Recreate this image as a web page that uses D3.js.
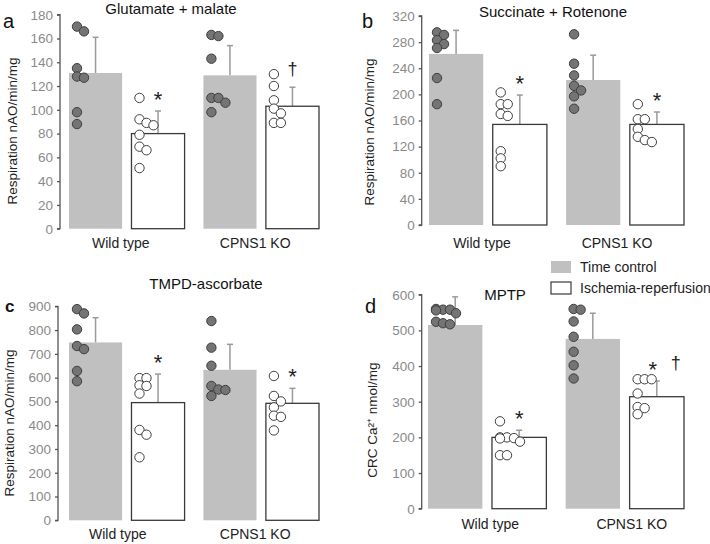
<!DOCTYPE html>
<html>
<head>
<meta charset="utf-8">
<script src="https://cdn.jsdelivr.net/npm/d3@7"></script>
<style>
  html, body { margin: 0; padding: 0; background: #fff; }
  svg { display: block; font-family: "Liberation Sans", Arial, sans-serif; }
</style>
</head>
<body>
<svg id="chart" width="710" height="544"></svg>
<script>
// ---------- DATA ----------
const groups = ["Wild type", "CPNS1 KO"];
const conditions = ["Time control", "Ischemia-reperfusion"];

// bar order: WT-TC, WT-IR, KO-TC, KO-IR
const glutMeans = [131, 80, 129, 103];
const glutErrTop = [161, 99, 154, 119];
const glutPoints = [
  [170, 166, 135, 128, 127, 98, 88],
  [110, 92, 89, 87, 79, 69, 66, 51],
  [163, 162, 143, 110, 110, 106, 98],
  [130, 120, 108, 101, 97, 89, 89]
];
const glutMarks = ["", "*", "", "†"];
const glutTicks = [0, 20, 40, 60, 80, 100, 120, 140, 160, 180];

const succMeans = [262, 154, 222, 154];
const succErrTop = [298, 199, 260, 173];
const succPoints = [
  [295, 291, 283, 277, 271, 225, 185],
  [203, 185, 185, 170, 167, 113, 102, 90],
  [292, 247, 229, 213, 206, 197, 178],
  [185, 162, 162, 147, 135, 130, 127]
];
const succMarks = ["", "*", "", "*"];
const succTicks = [0, 40, 80, 120, 160, 200, 240, 280, 320];

const tmpdMeans = [748, 495, 633, 492];
const tmpdErrTop = [852, 615, 740, 555];
const tmpdPoints = [
  [888, 870, 803, 733, 720, 628, 585],
  [598, 598, 568, 565, 533, 380, 360, 265],
  [838, 726, 650, 565, 550, 548, 523],
  [607, 523, 500, 475, 440, 435, 378]
];
const tmpdMarks = ["", "*", "", "*"];
const tmpdTicks = [0, 100, 200, 300, 400, 500, 600, 700, 800, 900];

const mptpMeans = [515, 200, 476, 314];
const mptpErrTop = [594, 220, 548, 358];
const mptpPoints = [
  [560, 558, 558, 556, 548, 524, 520, 517],
  [245, 200, 200, 198, 197, 188, 150, 150],
  [560, 558, 525, 482, 440, 402, 365],
  [363, 363, 363, 323, 285, 282, 265]
];
const mptpMarks = ["", "*", "", "* †"];
const mptpTicks = [0, 100, 200, 300, 400, 500, 600];

// ---------- LAYOUT ----------
const svg = d3.select("#chart");
const FONT = "'Liberation Sans', Arial, sans-serif";

const panels = [
  { letter: "a", letterX: 3, letterY: 28, letterSize: 20, letterWeight: "normal",
    title: "Glutamate + malate", titleX: 171, titleY: 14,
    axisX: 60, yTop: 14.7, yBottom: 228.7, barL: 69, barR: 319,
    ylabel: "Respiration nAO/min/mg", ylabelX: 17, ylabelY: 131,
    xlabY: 248, xlabDx: [-6, -6],
    means: glutMeans, errTop: glutErrTop, points: glutPoints, marks: glutMarks, ticks: glutTicks },
  { letter: "b", letterX: 362, letterY: 28, letterSize: 20, letterWeight: "normal",
    title: "Succinate + Rotenone", titleX: 553, titleY: 17,
    axisX: 421.7, yTop: 16, yBottom: 225, barL: 429, barR: 684,
    ylabel: "Respiration nAO/min/mg", ylabelX: 374, ylabelY: 132,
    xlabY: 248, xlabDx: [-6, -8],
    means: succMeans, errTop: succErrTop, points: succPoints, marks: succMarks, ticks: succTicks },
  { letter: "c", letterX: 5, letterY: 312, letterSize: 17, letterWeight: "bold",
    title: "TMPD-ascorbate", titleX: 206, titleY: 289,
    axisX: 58, yTop: 306.3, yBottom: 520.3, barL: 69, barR: 319,
    ylabel: "Respiration nAO/min/mg", ylabelX: 14, ylabelY: 423,
    xlabY: 539, xlabDx: [-9, -6],
    means: tmpdMeans, errTop: tmpdErrTop, points: tmpdPoints, marks: tmpdMarks, ticks: tmpdTicks },
  { letter: "d", letterX: 365, letterY: 313, letterSize: 20, letterWeight: "normal",
    title: "MPTP", titleX: 505, titleY: 300,
    axisX: 421.7, yTop: 294.7, yBottom: 508.7, barL: 428, barR: 684,
    ylabel: "CRC Ca²⁺ nmol/mg", ylabelX: 377, ylabelY: 420,
    xlabY: 529, xlabDx: [3, 7],
    means: mptpMeans, errTop: mptpErrTop, points: mptpPoints, marks: mptpMarks, ticks: mptpTicks }
];

const R = 4.7;

panels.forEach(p => {
  const g = svg.append("g");
  const yMax = p.ticks[p.ticks.length - 1];
  const y = d3.scaleLinear().domain([0, yMax]).range([p.yBottom, p.yTop]);
  const xg = d3.scaleBand().domain(groups).range([p.barL, p.barR]).paddingInner(0.14);
  const xc = d3.scaleBand().domain(conditions).range([0, xg.bandwidth()]).paddingInner(0.15);

  const bars = [];
  groups.forEach((grp, gi) => {
    conditions.forEach((cond, ci) => {
      const idx = gi * 2 + ci;
      bars.push({ grp, cond, ci, idx,
        x: xg(grp) + xc(cond), w: xc.bandwidth(),
        mean: p.means[idx], err: p.errTop[idx], pts: p.points[idx], mark: p.marks[idx] });
    });
  });

  // error bars (behind bars)
  bars.forEach(b => {
    const cx = b.x + b.w / 2;
    g.append("line").attr("x1", cx).attr("x2", cx)
      .attr("y1", y(b.mean)).attr("y2", y(b.err))
      .attr("stroke", "#9a9a9a").attr("stroke-width", 1.5);
    g.append("line").attr("x1", cx - 3).attr("x2", cx + 3)
      .attr("y1", y(b.err)).attr("y2", y(b.err))
      .attr("stroke", "#9a9a9a").attr("stroke-width", 1.5);
  });

  // bars
  bars.forEach(b => {
    g.append("rect")
      .attr("x", b.x).attr("y", y(b.mean))
      .attr("width", b.w).attr("height", y(0) - y(b.mean))
      .attr("fill", b.ci === 0 ? "#c0c0c0" : "#ffffff")
      .attr("stroke", b.ci === 0 ? "none" : "#3a3a3a")
      .attr("stroke-width", 1.3);
  });

  // points with simple dodge
  const offsets = [0, 7, 14, -5, 20, 3, 10];
  bars.forEach(b => {
    const base = b.x + 8;
    const placed = [];
    b.pts.slice().sort((a1, a2) => a2 - a1).forEach(v => {
      const py = y(v);
      let px = base;
      for (const o of offsets) {
        const cand = base + o;
        if (placed.every(q => Math.hypot(q[0] - cand, q[1] - py) >= 6.5)) { px = cand; break; }
      }
      placed.push([px, py]);
    });
    g.selectAll(null).data(placed).enter().append("circle")
      .attr("cx", d => d[0]).attr("cy", d => d[1]).attr("r", R)
      .attr("fill", b.ci === 0 ? "#747474" : "#ffffff")
      .attr("stroke", "#3f3f3f")
      .attr("stroke-width", 1);
  });

  // significance marks
  bars.forEach(b => {
    if (!b.mark) return;
    const cx = b.x + b.w / 2;
    const syms = b.mark.split(" ");
    const ey = y(b.err);
    syms.forEach((s, i) => {
      const sx = syms.length > 1 ? cx - 4 + i * 23 : cx;
      if (s === "*") {
        g.append("text").attr("x", sx).attr("y", ey - 4)
          .attr("text-anchor", "middle").attr("font-size", 22)
          .attr("fill", "#222").text(s);
      } else {
        g.append("text").attr("x", sx).attr("y", ey - 12)
          .attr("text-anchor", "middle").attr("font-size", 18)
          .attr("fill", "#222").text(s);
      }
    });
  });

  // y axis
  const axis = d3.axisLeft(y).tickValues(p.ticks).tickSize(3).tickPadding(4).tickFormat(d3.format("d"));
  const ag = g.append("g").attr("transform", `translate(${p.axisX},0)`).call(axis);
  ag.select(".domain").attr("stroke", "#555").attr("stroke-width", 1.3).attr("d", `M-3,${y(yMax)}H0V${y(0)}H-3`);
  ag.selectAll(".tick line").attr("stroke", "#555").attr("stroke-width", 1.3);
  ag.selectAll(".tick text").attr("fill", "#8a8a8a").attr("font-size", 13.5).attr("font-family", FONT);

  // x labels
  groups.forEach((grp, gi) => {
    g.append("text").attr("x", xg(grp) + xg.bandwidth() / 2 + p.xlabDx[gi]).attr("y", p.xlabY)
      .attr("text-anchor", "middle").attr("font-size", 14).attr("fill", "#222").text(grp);
  });

  // y label
  g.append("text")
    .attr("transform", `translate(${p.ylabelX},${p.ylabelY}) rotate(-90)`)
    .attr("text-anchor", "middle").attr("font-size", 13.5).attr("fill", "#222")
    .text(p.ylabel);

  // title
  g.append("text").attr("x", p.titleX).attr("y", p.titleY)
    .attr("text-anchor", "middle").attr("font-size", 15).attr("fill", "#111").text(p.title);

  // panel letter
  g.append("text").attr("x", p.letterX).attr("y", p.letterY)
    .attr("font-size", p.letterSize).attr("font-weight", p.letterWeight).attr("fill", "#111").text(p.letter);
});

// legend
const leg = svg.append("g");
conditions.forEach((c, i) => {
  leg.append("rect").attr("x", 551).attr("y", 261 + i * 21).attr("width", 20).attr("height", 12)
    .attr("fill", i === 0 ? "#c0c0c0" : "#fff")
    .attr("stroke", i === 0 ? "none" : "#3a3a3a").attr("stroke-width", 1.2);
  leg.append("text").attr("x", 580).attr("y", 272 + i * 21)
    .attr("font-size", 14).attr("fill", "#222").text(c);
});
</script>
</body>
</html>
